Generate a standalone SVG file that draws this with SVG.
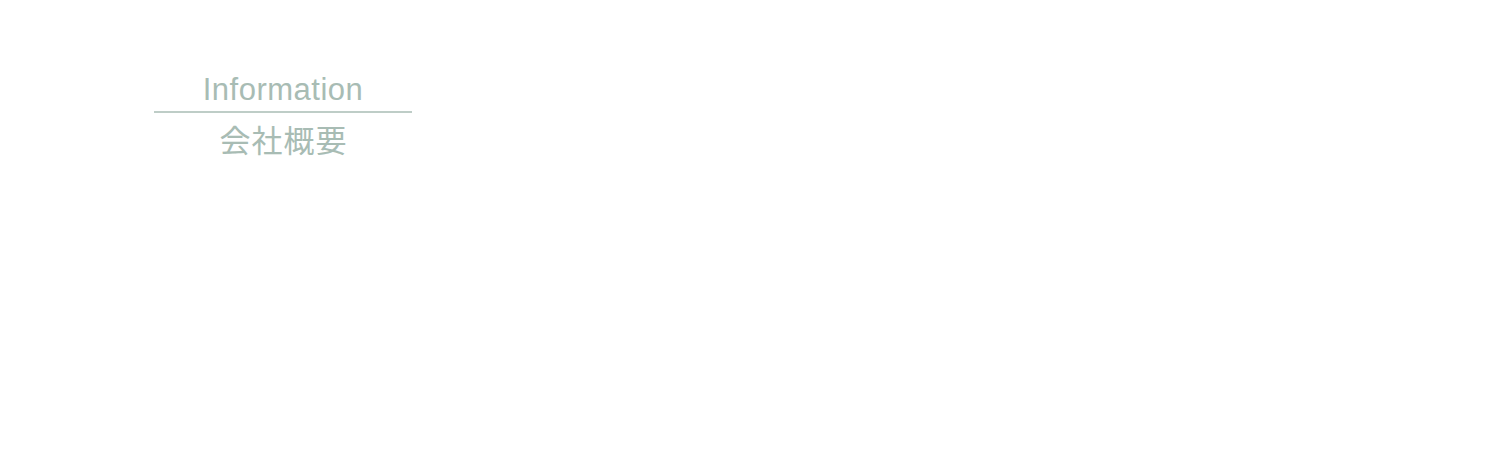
<svg xmlns="http://www.w3.org/2000/svg" width="1491" height="473" viewBox="0 0 1491 473">
<style>
.t{fill:#a8bcb4;text-anchor:middle;font-family:"Liberation Sans","Noto Sans CJK JP",sans-serif}
</style>
<rect width="1491" height="473" fill="#ffffff"/>
<g id="heading">
<text class="t" x="283" y="100" font-size="31" letter-spacing="0.5">Information</text>
<line x1="154" y1="112" x2="412" y2="112" stroke="#a8bcb4" stroke-width="1.5"/>
<text class="t" x="283.5" y="152" font-size="31" letter-spacing="1">会社概要</text>
</g>
</svg>
